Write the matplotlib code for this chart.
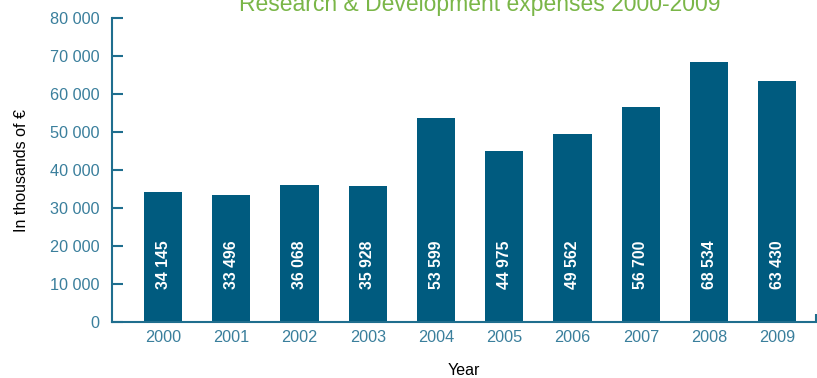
import matplotlib.pyplot as plt

years = ["2000", "2001", "2002", "2003", "2004", "2005", "2006", "2007", "2008", "2009"]
expenses = [34145, 33496, 36068, 35928, 53599, 44975, 49562, 56700, 68534, 63430]
y_ticks = [0, 10000, 20000, 30000, 40000, 50000, 60000, 70000, 80000]

bar_color = "#005b7f"
axis_color = "#1f6e8e"
tick_color = "#3a7f9c"
title_color = "#7ab648"

plt.rcParams["font.family"] = ["Liberation Sans", "DejaVu Sans"]

fig = plt.figure(figsize=(8.17, 3.78), dpi=100)
ax = fig.add_axes([0.137, 0.148, 0.862, 0.804])

x = range(len(years))
ax.bar(x, expenses, width=0.56, color=bar_color, zorder=2)

# value labels written vertically inside each bar
for i, v in enumerate(expenses):
    label = f"{v:,}".replace(",", " ")
    ax.text(i, 15000, label, rotation=90, ha="center", va="center",
            color="white", fontsize=11.3, fontweight="bold")

ax.set_xlim(-0.75, 9.57)
ax.set_ylim(0, 80000)
ax.set_xticks(list(x))
ax.set_xticklabels(years)
ax.set_yticks(y_ticks)
ax.set_yticklabels([f"{t:,}".replace(",", " ") for t in y_ticks])

ax.tick_params(axis="y", direction="in", length=8, width=1.5, color=axis_color,
               labelcolor=tick_color, labelsize=11.7, pad=9)
ax.tick_params(axis="x", length=0, labelcolor=tick_color, labelsize=11.7, pad=6)
# small closing tick at the right end of the x axis
ax.set_xticks([9.57], minor=True)
ax.tick_params(axis="x", which="minor", direction="in", length=6, width=1.5, color=axis_color)

for side in ("top", "right"):
    ax.spines[side].set_visible(False)
for side in ("left", "bottom"):
    ax.spines[side].set_color(axis_color)
    ax.spines[side].set_linewidth(1.5)

ax.set_xlabel("Year", fontsize=11.5, labelpad=13)
ax.set_ylabel("In thousands of €", fontsize=11.5, labelpad=15)

fig.text(0.587, 0.988, "Research & Development expenses 2000-2009",
         ha="center", va="center", color=title_color, fontsize=16.5)

fig.savefig("out.png", dpi=100)
